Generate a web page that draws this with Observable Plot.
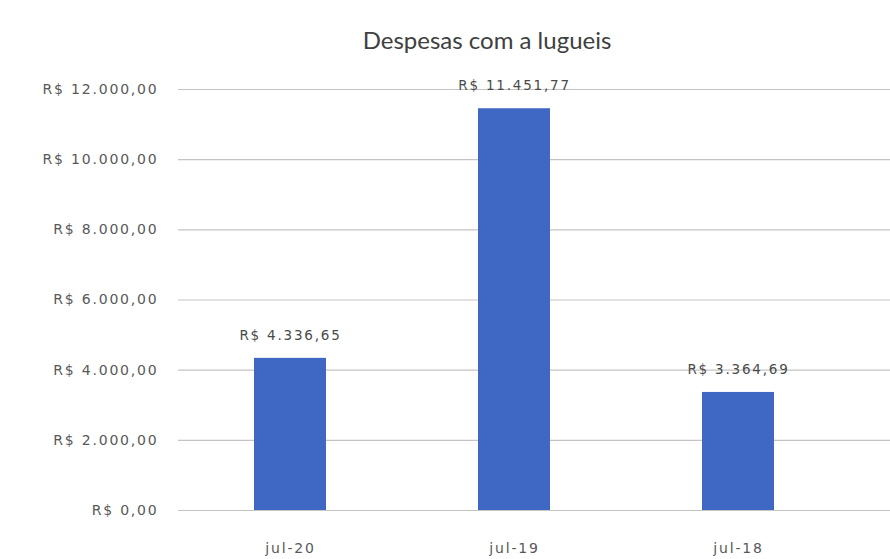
<!DOCTYPE html>
<html><head><meta charset="utf-8">
<script src="https://cdn.jsdelivr.net/npm/d3@7"></script>
<script src="https://cdn.jsdelivr.net/npm/@observablehq/plot@0.6"></script>
<style>
html,body{margin:0;padding:0;background:#fff;width:890px;height:559px;overflow:hidden;font-family:Lato,"Open Sans",sans-serif;}
#title{position:relative;height:65px;}
#title span{position:absolute;left:487px;top:25px;transform:translateX(-50%);font-size:24px;color:#404040;white-space:nowrap;}
</style></head>
<body>
<div id="title"><span>Despesas com a lugueis</span></div>
<div id="chart"></div>
<script>
const months = ["jul-20", "jul-19", "jul-18"];
const values = [4336.65, 11451.77, 3364.69];
const yTicks = [0, 2000, 4000, 6000, 8000, 10000, 12000];

const data = months.map((m, i) => ({month: m, value: values[i]}));
const brl = v => "R$ " + v.toLocaleString("pt-BR", {minimumFractionDigits: 2, maximumFractionDigits: 2});

const chart = Plot.plot({
  width: 890,
  height: 494,
  marginLeft: 178,
  marginRight: 40,
  marginTop: 24,
  marginBottom: 49,
  style: {fontFamily: "'DejaVu Sans', sans-serif", fontSize: "14px", color: "#595959", background: "#fff", letterSpacing: "1.8px"},
  x: {domain: months, paddingInner: 0.68, paddingOuter: 0.34, label: null, tickSize: 0, tickPadding: 33},
  y: {domain: [0, 12000], ticks: yTicks, tickFormat: brl, label: null, tickSize: 0, tickPadding: 20},
  marks: [
    Plot.ruleY(yTicks, {stroke: "#c4c4c4", strokeWidth: 1.2, insetRight: -40}),
    Plot.barY(data, {x: "month", y: "value", fill: "#3f68c5"}),
    Plot.text(data, {x: "month", y: "value", text: d => brl(d.value), dy: -23, fill: "#4a4a4a", fontSize: 13.5})
  ]
});
document.getElementById("chart").appendChild(chart);
</script>
</body></html>
